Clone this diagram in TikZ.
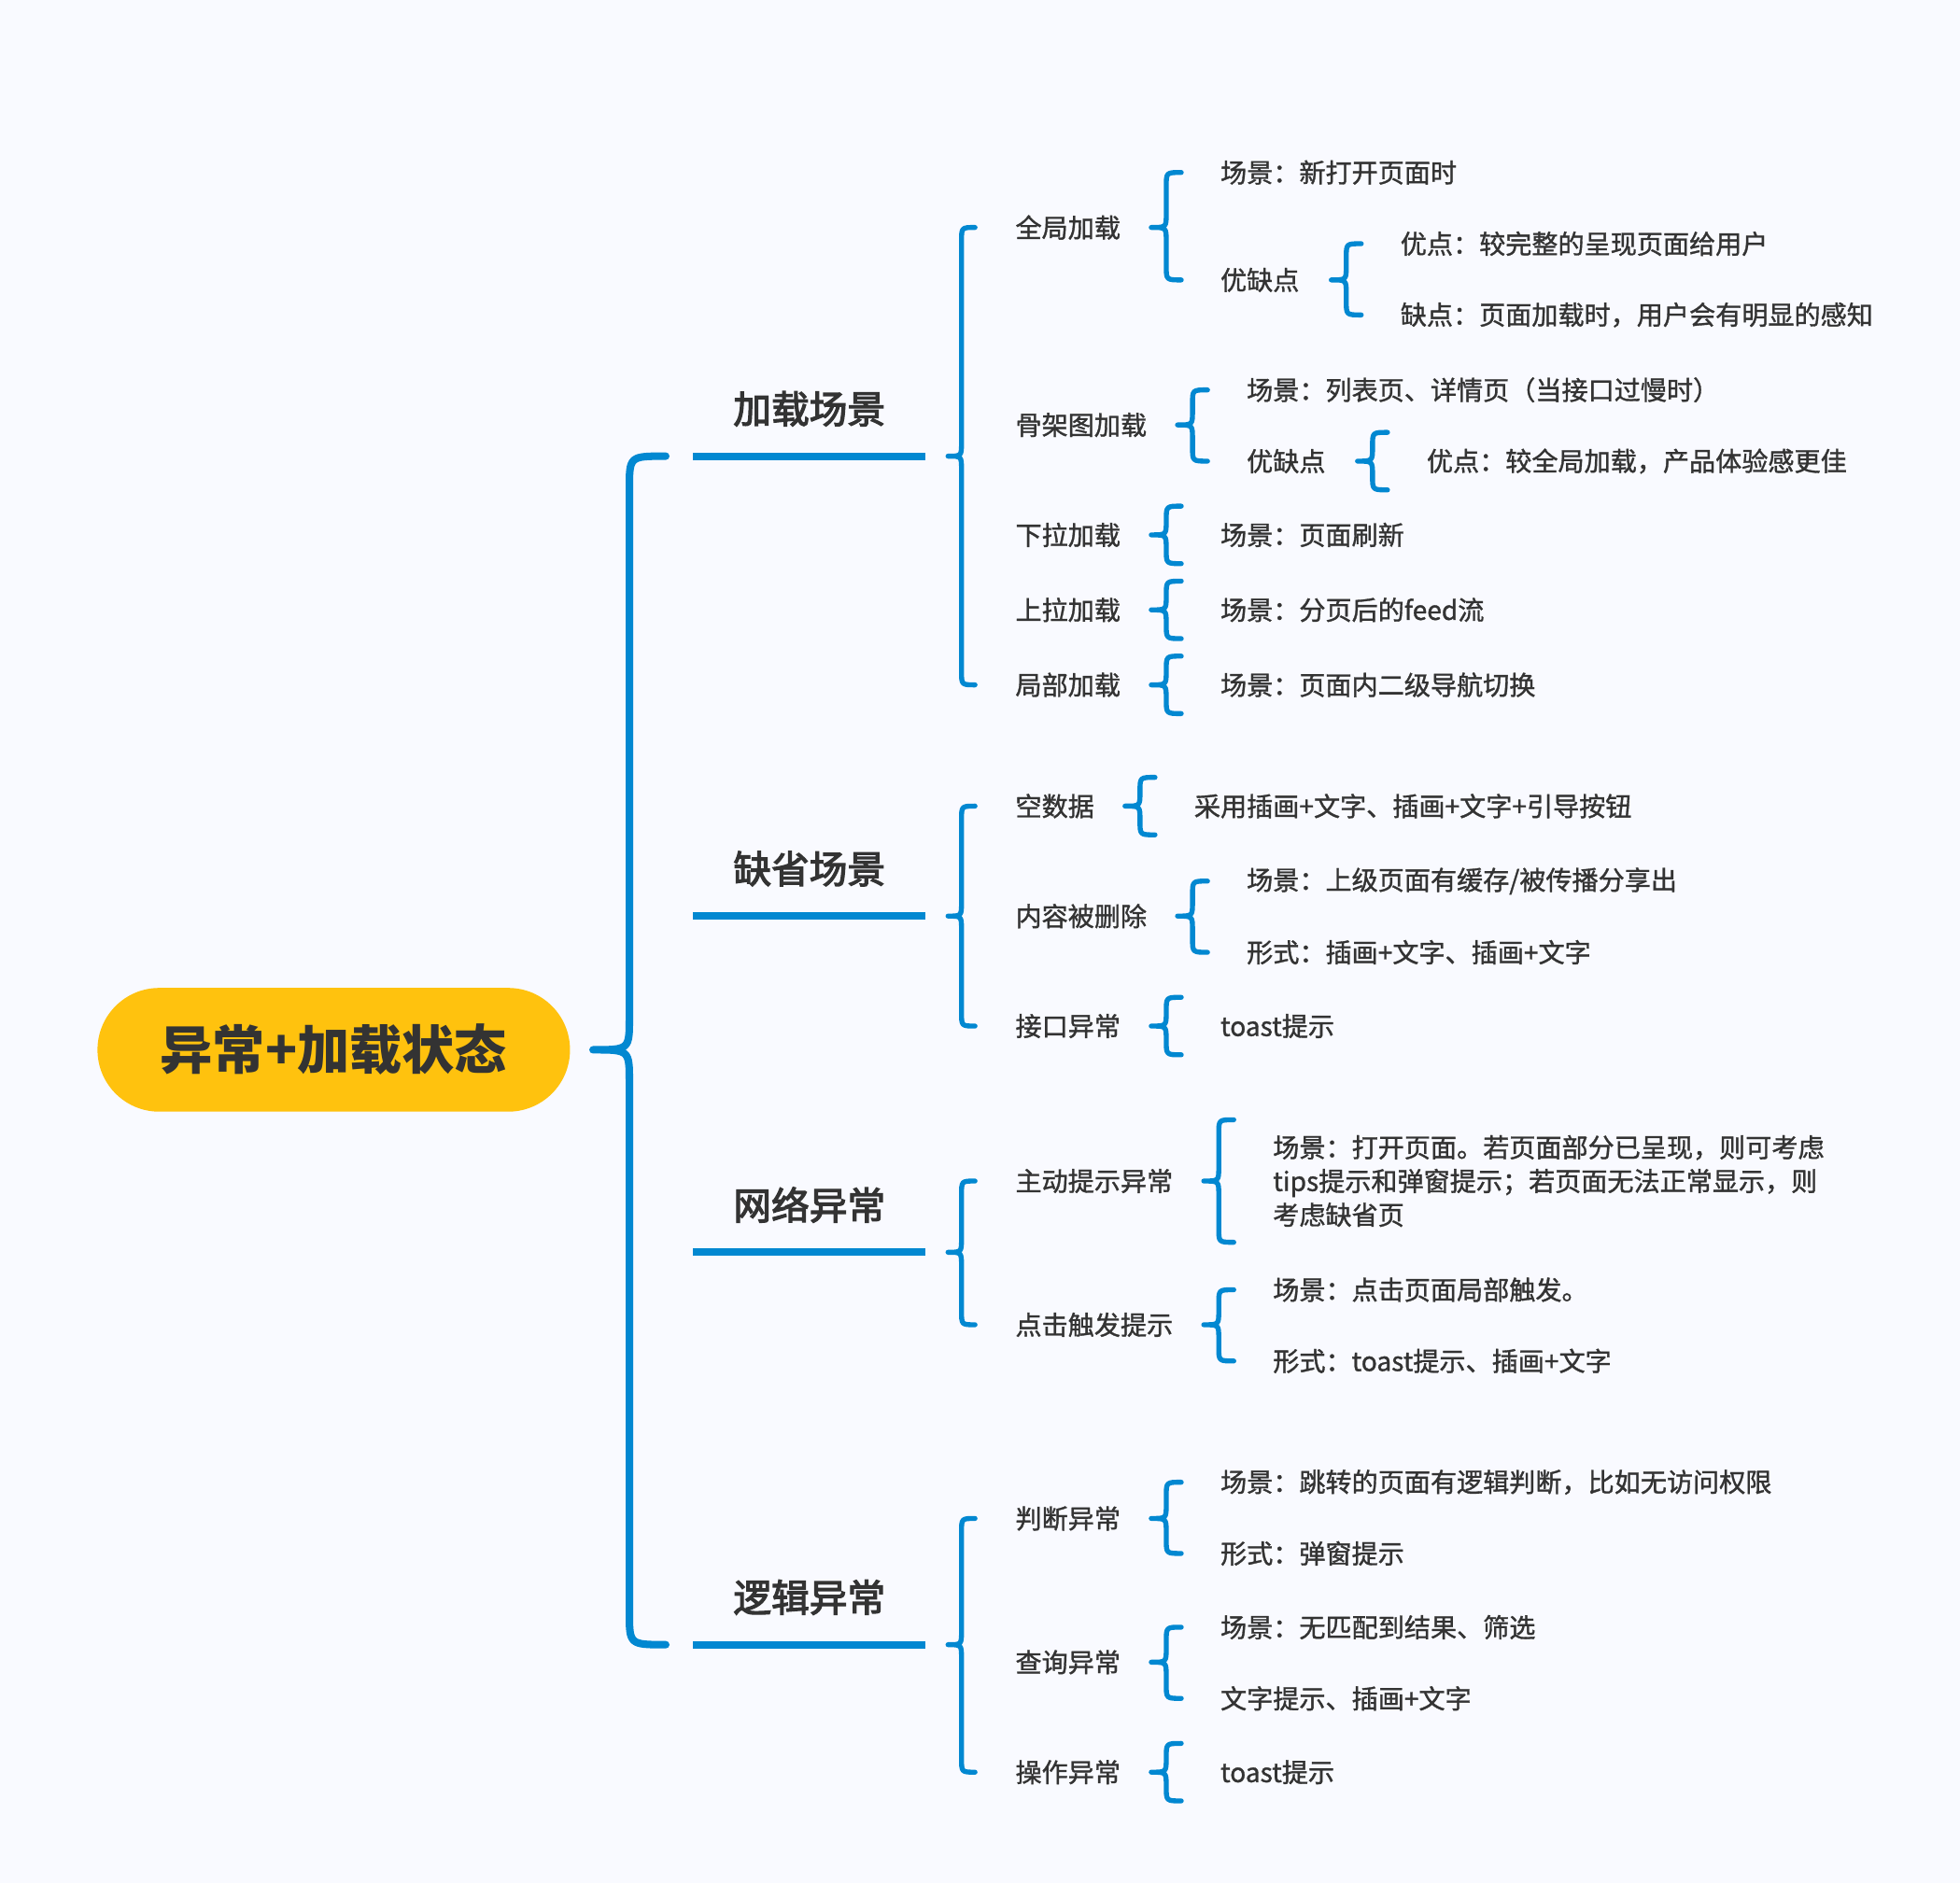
\documentclass[tikz,border=0pt]{standalone}
\usepackage{fontspec}
\newfontfamily\cjk{Noto Sans CJK SC}
\newfontfamily\cjkm{Noto Sans CJK SC}[FakeBold=1.2]
\newfontfamily\cjkt{Noto Sans CJK SC}[FakeBold=3]
\usetikzlibrary{calc}
\definecolor{bg}{RGB}{249,250,255}
\definecolor{brblue}{RGB}{2,136,209}
\definecolor{pill}{RGB}{255,194,14}
\definecolor{txt}{RGB}{51,51,51}
\tikzset{
  br/.style={draw=brblue, line width=2pt, line cap=round, line join=round},
  bigbr/.style={draw=brblue, line width=3pt, line cap=round, line join=round},
  ul/.style={draw=brblue, line width=3pt},
  leaf/.style={anchor=west, inner sep=0pt, text=txt, align=left,
    font=\cjkm\fontsize{10.5pt}{13.5pt}\selectfont},
  topic/.style={anchor=south, inner sep=0pt, minimum width=92.5pt, minimum height=37.5pt,
    text=txt, font=\cjkt\fontsize{15.2pt}{18pt}\selectfont},
  rootnode/.style={fill=pill, rounded corners=24.7pt, minimum width=189pt, minimum height=49.5pt,
    inner sep=0pt, text=txt, font=\cjk\bfseries\fontsize{21pt}{25pt}\selectfont}
}
% #1 style, #2 curl radius, #3 tip, #4 top end, #5 bottom end
\newcommand\curly[5][br]{%
  \draw[#1] let \p1=(#3), \p2=(#4), \p3=(#5), \n1={(\x1+\x2)/2} in
    (\p2) .. controls ({\n1*1pt},\y2) .. ({\n1*1pt},{\y2-#2})
    -- ({\n1*1pt},{\y1+#2}) .. controls ({\n1*1pt},\y1) .. (\p1)
    .. controls ({\n1*1pt},\y1) .. ({\n1*1pt},{\y1-#2})
    -- ({\n1*1pt},{\y3+#2}) .. controls ({\n1*1pt},\y3) .. (\p3);}
\begin{document}
\begin{tikzpicture}[x=0.5pt,y=-0.5pt]
\fill[bg] (0,0) rectangle (1568,1507);
\useasboundingbox (0,0) rectangle (1568,1507);

% root
\node[rootnode] (root) at (267,840) {异常+加载状态};

% level 1
\node[topic] (A) at (647.5,365) {加载场景};
\node[topic] (B) at (647.5,733) {缺省场景};
\node[topic] (C) at (647.5,1002) {网络异常};
\node[topic] (D) at (647.5,1316) {逻辑异常};
\foreach \t in {A,B,C,D} \draw[ul] (\t.south west) -- (\t.south east);

% level 2
\node[leaf] (a1) at (812,182) {全局加载};
\node[leaf] (a2) at (812,340) {骨架图加载};
\node[leaf] (a3) at (812,428) {下拉加载};
\node[leaf] (a4) at (812,488) {上拉加载};
\node[leaf] (a5) at (812,548) {局部加载};
\node[leaf] (b1) at (812,645) {空数据};
\node[leaf] (b2) at (812,733) {内容被删除};
\node[leaf] (b3) at (812,821) {接口异常};
\node[leaf] (c1) at (812,945) {主动提示异常};
\node[leaf] (c2) at (812,1060) {点击触发提示};
\node[leaf] (d1) at (812,1215) {判断异常};
\node[leaf] (d2) at (812,1330) {查询异常};
\node[leaf] (d3) at (812,1418) {操作异常};

% leaves
\node[leaf] (a11) at (976,138) {场景：新打开页面时};
\node[leaf] (a12) at (976,224) {优缺点};
\node[leaf] (a121) at (1120,195) {优点：较完整的呈现页面给用户};
\node[leaf] (a122) at (1120,252) {缺点：页面加载时，用户会有明显的感知};
\node[leaf] (a21) at (997,312) {场景：列表页、详情页（当接口过慢时）};
\node[leaf] (a22) at (997,369) {优缺点};
\node[leaf] (a221) at (1141,369) {优点：较全局加载，产品体验感更佳};
\node[leaf] (a31) at (976,428) {场景：页面刷新};
\node[leaf] (a41) at (976,488) {场景：分页后的feed流};
\node[leaf] (a51) at (976,548) {场景：页面内二级导航切换};
\node[leaf] (b11) at (955,645) {采用插画+文字、插画+文字+引导按钮};
\node[leaf] (b21) at (997,705) {场景：上级页面有缓存/被传播分享出};
\node[leaf] (b22) at (997,762) {形式：插画+文字、插画+文字};
\node[leaf] (b31) at (976,821) {toast提示};
\node[leaf] (c11) at (1018,945) {场景：打开页面。若页面部分已呈现，则可考虑\\tips提示和弹窗提示；若页面无法正常显示，则\\考虑缺省页};
\node[leaf] (c21) at (1018,1032) {场景：点击页面局部触发。};
\node[leaf] (c22) at (1018,1089) {形式：toast提示、插画+文字};
\node[leaf] (d11) at (976,1186) {场景：跳转的页面有逻辑判断，比如无访问权限};
\node[leaf] (d12) at (976,1243) {形式：弹窗提示};
\node[leaf] (d21) at (976,1302) {场景：无匹配到结果、筛选};
\node[leaf] (d22) at (976,1359) {文字提示、插画+文字};
\node[leaf] (d31) at (976,1418) {toast提示};

% big brace
\curly[bigbr]{13pt}{$(root.east)+(9pt,0)$}{$(A.south west)+(-11pt,0)$}{$(D.south west)+(-11pt,0)$}

% level-1 braces
\curly{5.5pt}{$(A.south east)+(9pt,0)$}{$(a1.west)+(-16pt,0)$}{$(a5.west)+(-16pt,0)$}
\curly{5.5pt}{$(B.south east)+(9pt,0)$}{$(b1.west)+(-16pt,0)$}{$(b3.west)+(-16pt,0)$}
\curly{5.5pt}{$(C.south east)+(9pt,0)$}{$(c1.west)+(-16pt,0)$}{$(c2.west)+(-16pt,0)$}
\curly{5.5pt}{$(D.south east)+(9pt,0)$}{$(d1.west)+(-16pt,0)$}{$(d3.west)+(-16pt,0)$}

% level-2 braces, two children
\curly{5.5pt}{$(a1.east -| a11.west)+(-27.5pt,0)$}{$(a11.west)+(-15.5pt,0)$}{$(a12.west)+(-15.5pt,0)$}
\curly{5.5pt}{$(a12.east -| a121.west)+(-27.5pt,0)$}{$(a121.west)+(-15.5pt,0)$}{$(a122.west)+(-15.5pt,0)$}
\curly{5.5pt}{$(a2.east -| a21.west)+(-27.5pt,0)$}{$(a21.west)+(-15.5pt,0)$}{$(a22.west)+(-15.5pt,0)$}
\curly{5.5pt}{$(b2.east -| b21.west)+(-27.5pt,0)$}{$(b21.west)+(-15.5pt,0)$}{$(b22.west)+(-15.5pt,0)$}
\curly{5.5pt}{$(c2.east -| c21.west)+(-27.5pt,0)$}{$(c21.west)+(-15.5pt,0)$}{$(c22.west)+(-15.5pt,0)$}
\curly{5.5pt}{$(d1.east -| d11.west)+(-27.5pt,0)$}{$(d11.west)+(-15.5pt,0)$}{$(d12.west)+(-15.5pt,0)$}
\curly{5.5pt}{$(d2.east -| d21.west)+(-27.5pt,0)$}{$(d21.west)+(-15.5pt,0)$}{$(d22.west)+(-15.5pt,0)$}

% level-2 braces, one child
\curly{5.5pt}{$(a22.east -| a221.west)+(-27.5pt,0)$}{$(a221.west)+(-15.5pt,11.5pt)$}{$(a221.west)+(-15.5pt,-11.5pt)$}
\curly{5.5pt}{$(a3.east -| a31.west)+(-27.5pt,0)$}{$(a31.west)+(-15.5pt,11.5pt)$}{$(a31.west)+(-15.5pt,-11.5pt)$}
\curly{5.5pt}{$(a4.east -| a41.west)+(-27.5pt,0)$}{$(a41.west)+(-15.5pt,11.5pt)$}{$(a41.west)+(-15.5pt,-11.5pt)$}
\curly{5.5pt}{$(a5.east -| a51.west)+(-27.5pt,0)$}{$(a51.west)+(-15.5pt,11.5pt)$}{$(a51.west)+(-15.5pt,-11.5pt)$}
\curly{5.5pt}{$(b1.east -| b11.west)+(-27.5pt,0)$}{$(b11.west)+(-15.5pt,11.5pt)$}{$(b11.west)+(-15.5pt,-11.5pt)$}
\curly{5.5pt}{$(b3.east -| b31.west)+(-27.5pt,0)$}{$(b31.west)+(-15.5pt,11.5pt)$}{$(b31.west)+(-15.5pt,-11.5pt)$}
\curly{5.5pt}{$(c1.east -| c11.west)+(-27.5pt,0)$}{$(c11.west)+(-15.5pt,24.5pt)$}{$(c11.west)+(-15.5pt,-24.5pt)$}
\curly{5.5pt}{$(d3.east -| d31.west)+(-27.5pt,0)$}{$(d31.west)+(-15.5pt,11.5pt)$}{$(d31.west)+(-15.5pt,-11.5pt)$}
\end{tikzpicture}
\end{document}
